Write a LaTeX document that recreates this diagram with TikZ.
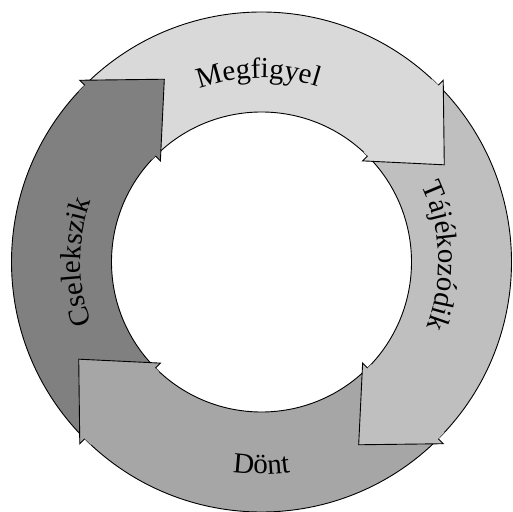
\documentclass[tikz,border=0pt]{standalone}
\usepackage{fontspec}
\setmainfont{Liberation Serif}
\usetikzlibrary{decorations.text}
\definecolor{segA}{gray}{0.85}
\definecolor{segB}{gray}{0.75}
\definecolor{segC}{gray}{0.65}
\definecolor{segD}{gray}{0.50}
\newcommand\cyclefont{\fontsize{29}{31}\selectfont}
\tikzset{
  edge/.style={draw=black, line width=0.9pt, line join=miter},
  arclabel/.style={decorate, decoration={text along path, text align=center, text={|\cyclefont|#1}}}
}
\begin{document}
\begin{tikzpicture}[x=1pt, y=1pt]
\useasboundingbox (0,0) rectangle (513,511);
\begin{scope}[shift={(261.5,249)}]
\coordinate (c) at (0,0);
\def\Ro{250}\def\Ri{150}\def\Rb{257}\def\Rn{143}\def\Rt{207}\def\hl{17}
% ring segments (bodies)
\foreach \s/\col in {135/segA, 45/segB, -45/segC, -135/segD}{
  \pgfmathsetmacro\e{\s-90}
  \fill[\col] (\s:\Ro) arc[start angle=\s, end angle=\e, radius=\Ro]
     -- (\e:\Ri) arc[start angle=\e, end angle=\s, radius=\Ri] -- cycle;
  \draw[edge] (\s:\Ro) arc[start angle=\s, end angle=\e, radius=\Ro];
  \draw[edge] (\s:\Ri) arc[start angle=\s, end angle=\e, radius=\Ri];
}
% arrow heads, laid over the tail of the following segment
\foreach \s/\col in {135/segA, 45/segB, -45/segC, -135/segD}{
  \pgfmathsetmacro\e{\s-90}
  \pgfmathsetmacro\t{\e-\hl}
  \pgfmathsetmacro\b{\e+2}
  \fill[\col] (\b:\Ri) -- (\b:\Ro) -- (\e:\Ro) -- (\e:\Rb) -- (\t:\Rt)
     -- (\e:\Rn) -- (\e:\Ri) -- cycle;
  \draw[edge] (\e:\Ro) -- (\e:\Rb) -- (\t:\Rt) -- (\e:\Rn) -- (\e:\Ri);
}
% labels along the ring
\path[arclabel=Megfigyel] (131:184) arc[start angle=131, end angle=51, radius=184];
\path[arclabel=Tájékozódik] (42:177) arc[start angle=42, end angle=-38, radius=177];
\path[arclabel=Dönt] (230:212) arc[start angle=230, end angle=310, radius=212];
\path[arclabel=Cselekszik] (220:181) arc[start angle=220, end angle=140, radius=181];
\end{scope}
\end{tikzpicture}
\end{document}
